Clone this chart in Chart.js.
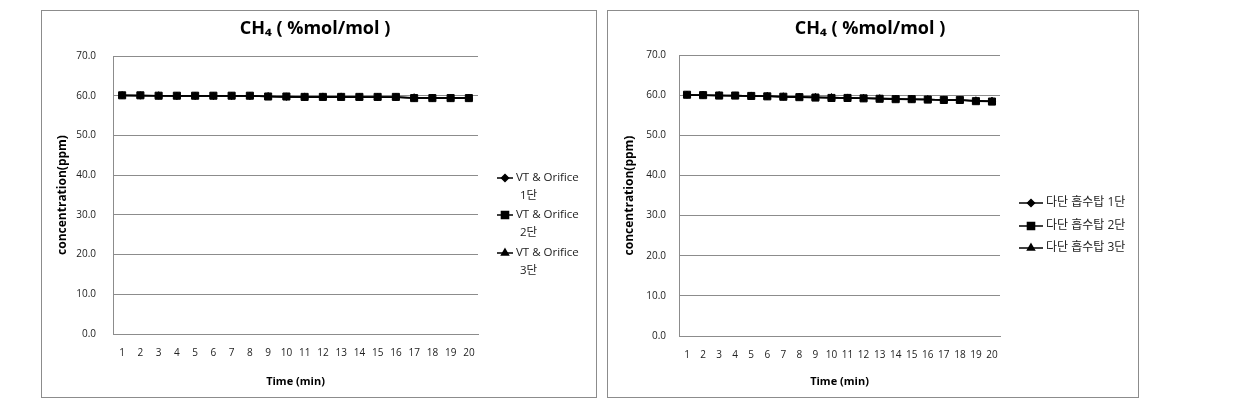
<!DOCTYPE html>
<html>
<head>
<meta charset="utf-8">
<script src="https://cdn.jsdelivr.net/npm/chart.js@4.4.1/dist/chart.umd.min.js"></script>
<style>
  body { margin: 0; background: #fff; }
  .box { position: absolute; border: 1px solid #8c8c8c; background: #fff; }
  #boxA { left: 41px; top: 10px; width: 554px; height: 386px; }
  #boxB { left: 607px; top: 10px; width: 530px; height: 386px; }
  canvas { display: block; }
</style>
</head>
<body>
<div class="box" id="boxA"><canvas id="chartA"></canvas></div>
<div class="box" id="boxB"><canvas id="chartB"></canvas></div>
<script>
const timeLabels = ['1', '2', '3', '4', '5', '6', '7', '8', '9', '10', '11', '12', '13', '14', '15', '16', '17', '18', '19', '20'];
const yTicks = [0, 10, 20, 30, 40, 50, 60, 70];

const namesA = ['VT & Orifice\n1단', 'VT & Orifice\n2단', 'VT & Orifice\n3단'];
const vtStage1 = [60.1, 60.0, 60.0, 59.9, 59.9, 59.9, 59.9, 59.9, 59.8, 59.7, 59.7, 59.7, 59.7, 59.7, 59.6, 59.6, 59.4, 59.4, 59.4, 59.4];
const vtStage2 = [60.1, 60.1, 60.0, 60.0, 60.0, 60.0, 60.0, 60.0, 59.8, 59.8, 59.7, 59.7, 59.7, 59.7, 59.7, 59.7, 59.4, 59.4, 59.4, 59.4];
const vtStage3 = [60.0, 60.0, 60.0, 59.9, 59.9, 59.9, 59.9, 59.9, 59.8, 59.7, 59.7, 59.7, 59.7, 59.6, 59.6, 59.6, 59.5, 59.4, 59.4, 59.4];

const namesB = ['다단 흡수탑 1단', '다단 흡수탑 2단', '다단 흡수탑 3단'];
const towerStage1 = [60.1, 60.0, 59.9, 59.9, 59.8, 59.7, 59.6, 59.6, 59.5, 59.4, 59.3, 59.2, 59.2, 59.1, 59.0, 58.9, 58.8, 58.8, 58.6, 58.5];
const towerStage2 = [60.1, 60.0, 59.9, 59.9, 59.8, 59.7, 59.6, 59.5, 59.4, 59.3, 59.3, 59.2, 59.1, 59.0, 59.0, 58.9, 58.8, 58.8, 58.5, 58.4];
const towerStage3 = [60.0, 60.0, 59.9, 59.8, 59.8, 59.7, 59.6, 59.5, 59.4, 59.4, 59.3, 59.2, 59.1, 59.0, 58.9, 58.9, 58.8, 58.7, 58.6, 58.5];

const FONT = '"Open Sans", "Noto Sans CJK KR", sans-serif';
const markers = [
  { pointStyle: 'rectRot', radius: 3.5, order: 1 },
  { pointStyle: 'rect', radius: 5, order: 0 },
  { pointStyle: 'triangle', radius: 4, order: 1 }
];

// legend at the right side, drawn by hand so the names can wrap like the original
const sideLegend = {
  id: 'sideLegend',
  afterDraw(chart, args, opts) {
    const ctx = chart.ctx;
    ctx.save();
    ctx.font = opts.fontSize + 'px ' + FONT;
    ctx.textBaseline = 'middle';
    chart.data.datasets.forEach((ds, i) => {
      const y = opts.rows[i];
      ctx.strokeStyle = '#000';
      ctx.lineWidth = 1.5;
      ctx.beginPath();
      ctx.moveTo(opts.x, y);
      ctx.lineTo(opts.x + opts.lineLen, y);
      ctx.stroke();
      ctx.fillStyle = '#000';
      Chart.helpers.drawPoint(ctx, {
        pointStyle: ds.pointStyle,
        radius: ds.pointRadius,
        rotation: 0,
        borderWidth: 1
      }, opts.x + opts.lineLen / 2, y);
      ctx.fillStyle = '#222';
      ds.label.split('\n').forEach((line, j) => {
        ctx.fillText(line, opts.x + opts.lineLen + 3 + (j > 0 ? opts.indent : 0), y + j * opts.lineGap);
      });
    });
    ctx.restore();
  }
};

function makeChart(id, names, series, s) {
  const datasets = series.map((vals, i) => ({
    label: names[i],
    data: vals,
    borderColor: '#000',
    backgroundColor: '#000',
    borderWidth: 1.5,
    pointStyle: markers[i].pointStyle,
    pointRadius: markers[i].radius,
    pointBorderWidth: 1,
    order: markers[i].order,
    tension: 0,
    xAxisID: 'x',
    yAxisID: 'y'
  }));

  return new Chart(document.getElementById(id), {
    type: 'line',
    data: { labels: timeLabels, datasets: datasets },
    options: {
      responsive: true,
      maintainAspectRatio: false,
      animation: false,
      layout: { padding: { left: 4, right: s.padRight, top: 0, bottom: 0 } },
      plugins: {
        legend: { display: false },
        tooltip: { enabled: false },
        title: {
          display: true,
          text: 'CH₄ ( %mol/mol )',
          color: '#000',
          font: { family: FONT, size: 18, weight: 'bold' },
          padding: { top: 7, bottom: s.titleGap }
        },
        sideLegend: s.legend
      },
      scales: {
        x: {
          offset: true,
          afterFit: a => { a.height = s.xHeight; },
          grid: { display: false },
          border: { display: true, color: '#8c8c8c', width: 1 },
          ticks: { color: '#222', font: { family: FONT, size: 10 }, padding: 5, maxRotation: 0, autoSkip: false },
          title: { display: true, text: 'Time (min)', color: '#000', font: { family: FONT, size: 11, weight: 'bold' }, padding: { top: 0, bottom: 9 } }
        },
        y: {
          min: 0,
          max: 70,
          afterFit: a => { a.width = 67; },
          afterBuildTicks: axis => { axis.ticks = yTicks.map(v => ({ value: v })); },
          grid: { color: '#8c8c8c', drawTicks: false },
          border: { display: true, color: '#8c8c8c', width: 1 },
          ticks: { color: '#222', font: { family: FONT, size: 10 }, padding: s.tickPad, callback: v => Number(v).toFixed(1) },
          title: { display: true, text: 'concentration(ppm)', color: '#000', font: { family: FONT, size: 12, weight: 'bold' }, padding: { top: s.yTitleTop, bottom: 0 } }
        },
        legendSpace: {
          position: 'right',
          afterFit: a => { a.width = s.legendWidth; },
          grid: { display: false },
          border: { display: false },
          ticks: { display: false }
        }
      }
    },
    plugins: [sideLegend]
  });
}

makeChart('chartA', namesA, [vtStage1, vtStage2, vtStage3], {
  padRight: 12, titleGap: 16.4, xHeight: 63, tickPad: 17, yTitleTop: 9, legendWidth: 106,
  legend: { x: 455, lineLen: 16, indent: 4, lineGap: 18, fontSize: 11.5, rows: [167, 204, 242] }
});

makeChart('chartB', namesB, [towerStage1, towerStage2, towerStage3], {
  padRight: 10, titleGap: 15.4, xHeight: 61, tickPad: 13, yTitleTop: 10, legendWidth: 128,
  legend: { x: 411, lineLen: 24, indent: 0, lineGap: 18, fontSize: 12, rows: [192, 215, 237] }
});
</script>
</body>
</html>
